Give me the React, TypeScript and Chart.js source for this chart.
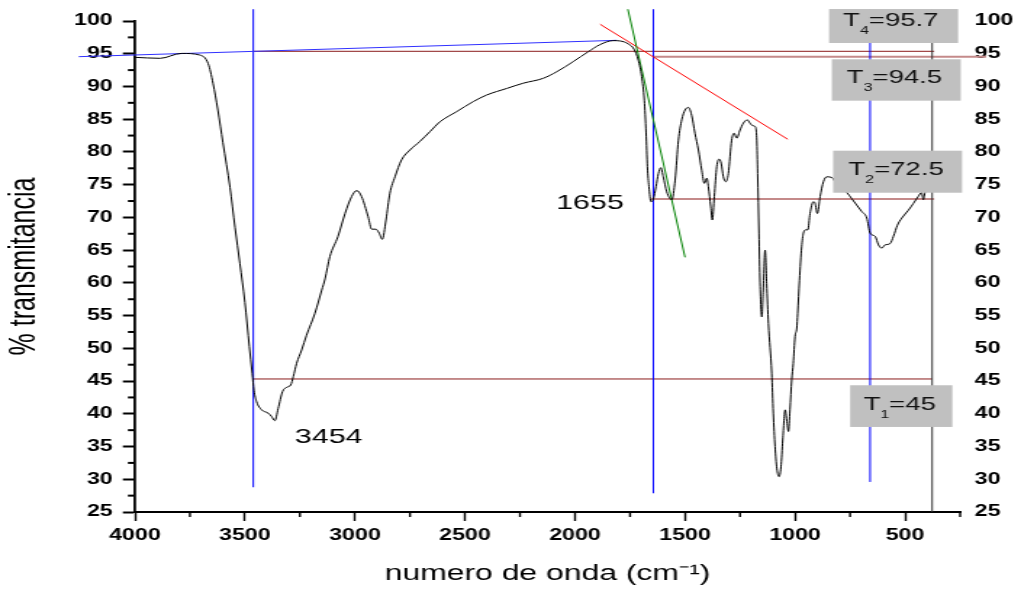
import React, { useEffect, useRef } from 'react';
import { Chart, registerables } from 'chart.js';

Chart.register(...registerables);

// ---------- data ----------
const wavenumbers = [
  4000, 3886, 3788, 3705, 3667, 3645, 3623, 3600, 3568, 3545, 3523, 3500, 3480, 3467, 3459, 3447,
  3424, 3394, 3379, 3364, 3349, 3329, 3310, 3292, 3280, 3265, 3242, 3220, 3182, 3151, 3136, 3114,
  3077, 3045, 3015, 2992, 2970, 2940, 2924, 2905, 2890, 2876, 2859, 2841, 2818, 2788, 2750, 2705,
  2659, 2614, 2538, 2462, 2401, 2310, 2235, 2144, 2083, 2008, 1940, 1886, 1826, 1795, 1758, 1732,
  1712, 1697, 1685, 1677, 1671, 1664, 1655, 1644, 1632, 1621, 1610, 1599, 1583, 1560, 1545, 1530,
  1515, 1500, 1485, 1470, 1455, 1439, 1424, 1412, 1401, 1394, 1383, 1376, 1367, 1356, 1345, 1336,
  1326, 1315, 1303, 1288, 1277, 1265, 1250, 1235, 1217, 1205, 1192, 1182, 1174, 1170, 1164, 1159,
  1151, 1145, 1136, 1129, 1121, 1106, 1099, 1091, 1083, 1073, 1064, 1056, 1045, 1038, 1030, 1023,
  1015, 1008, 1000, 992, 988, 980, 970, 962, 951, 942, 932, 917, 909, 899, 886, 871,
  856, 833, 818, 795, 765, 743, 720, 697, 674, 659, 636, 621, 606, 591, 568, 553,
  535, 515, 485, 462, 440, 425, 417, 409, 394, 379,
];
const transmittance = [
  94.45, 94.3, 95.05, 94.8, 93.5, 90.5, 86.4, 81.4, 74.6, 68.5, 63.0, 57.0, 50.3, 46.2, 43.6, 41.85,
  40.6, 40.1, 39.6, 38.95, 40.8, 43.4, 44.05, 44.4, 45.7, 47.7, 49.75, 52.0, 55.35, 58.9, 60.6, 64.0,
  67.1, 70.6, 73.2, 74.1, 73.2, 70.1, 68.2, 68.2, 67.6, 66.65, 69.6, 73.7, 76.2, 78.8, 80.3, 81.6,
  83.1, 84.6, 86.15, 87.7, 88.7, 89.7, 90.5, 91.25, 92.25, 93.8, 95.3, 96.4, 97.0, 96.95, 96.5, 95.7,
  94.0, 91.5, 87.9, 82.9, 77.75, 74.7, 72.4, 72.8, 74.7, 76.7, 77.6, 76.2, 73.9, 72.7, 75.7, 81.8,
  84.9, 86.4, 86.8, 85.6, 82.85, 80.3, 77.2, 75.2, 76.0, 74.7, 71.6, 69.6, 73.2, 77.75, 78.9, 78.3,
  76.2, 75.45, 76.7, 81.8, 82.85, 82.1, 83.35, 84.4, 84.9, 84.4, 84.0, 83.9, 81.8, 76.7, 67.6, 60.0,
  54.8, 58.5, 65.0, 59.9, 53.8, 46.2, 40.1, 35.0, 31.7, 30.4, 31.9, 36.0, 40.6, 39.05, 37.3, 40.6,
  45.2, 47.7, 51.8, 53.1, 55.35, 60.4, 65.5, 67.6, 68.1, 68.1, 70.6, 72.4, 72.15, 70.6, 73.2, 75.45,
  76.2, 76.1, 75.45, 74.7, 73.8, 72.9, 71.9, 70.9, 69.9, 67.6, 67.1, 65.8, 65.3, 65.8, 66.0, 67.1,
  68.8, 69.9, 71.1, 72.15, 73.2, 73.8, 72.7, 73.9, 74.4, 74.7,
];

const xTickValues = [4000, 3500, 3000, 2500, 2000, 1500, 1000, 500];
const xMinorValues = [3750, 3250, 2750, 2250, 1750, 1250, 750, 250];
const yTickValues = [25, 30, 35, 40, 45, 50, 55, 60, 65, 70, 75, 80, 85, 90, 95, 100];
const yMinorValues = [27.5, 32.5, 37.5, 42.5, 47.5, 52.5, 57.5, 62.5, 67.5, 72.5, 77.5, 82.5, 87.5, 92.5, 97.5];

// guide lines in data units: [wn1, T1, wn2, T2]
const baselineSeg = [4255, 94.55, 1810, 97.05];
const tangentRedSeg = [1886, 99.5, 1033, 81.93];
const tangentGreenSeg = [1760, 101.8, 1500, 63.9];
const peakMarkerWn = [3462, 1644, 659];
const peakMarkerTop = [101.8, 101.8, 101.8];
const peakMarkerBottom = [28.78, 27.86, 29.59];
const endMarkerWn = 377;
const levelDarkValues = [95.37, 45.32];
const levelDarkFrom = [3462, 3462];
const levelDarkTo = [368, 377];
const levelRoseValues = [94.55, 72.8];
const levelRoseFrom = [1644, 1656];
const levelRoseTo = [132, 368];

// peak labels
const peakLabelText = ['3454', '1655'];
const peakLabelWn = [3273, 2086];
const peakLabelT = [35.5, 71.28];

// T boxes
const boxSub = ['4', '3', '2', '1'];
const boxValue = ['=95.7', '=94.5', '=72.5', '=45'];
const boxLeft = [845.5, 833, 827, 750];
const boxRight = [259, 247, 241, 285];
const boxTop = [101.83, 94.15, 80.19, 44.36];
const boxBottom = [96.64, 87.83, 73.77, 37.99];
const boxTextWn = [781.8, 765, 757.7, 689];
const boxTextT = [99.24, 90.48, 76.48, 40.58];

const FONT = '"Liberation Sans", Arial, sans-serif';
const CANVAS_W = 704; // drawn narrower and stretched horizontally like the reference
const CANVAS_H = 592;

const overlayPlugin = {
  id: 'overlay',
  beforeDatasetsDraw(chart: any) {
    const { ctx, scales } = chart;
    const x = scales.x;
    const y = scales.y;
    const px = (v: number) => x.getPixelForValue(v);
    const py = (v: number) => y.getPixelForValue(v);
    const seg = (s: number[], color: string, w: number) => {
      ctx.strokeStyle = color;
      ctx.lineWidth = w;
      ctx.beginPath();
      ctx.moveTo(px(s[0]), py(s[1]));
      ctx.lineTo(px(s[2]), py(s[3]));
      ctx.stroke();
    };
    ctx.save();
    levelDarkValues.forEach((v, i) => seg([levelDarkFrom[i], v, levelDarkTo[i], v], '#8b1c1c', 1));
    levelRoseValues.forEach((v, i) => seg([levelRoseFrom[i], v, levelRoseTo[i], v], '#c48a8a', 2));
    peakMarkerWn.forEach((w, i) => seg([w, peakMarkerTop[i], w, peakMarkerBottom[i]], '#0000ff', 1));
    seg([endMarkerWn, 101.8, endMarkerWn, 25], '#333333', 1);
    seg(baselineSeg, '#3030ff', 1);
    seg(tangentRedSeg, '#ff0000', 1);
    seg(tangentGreenSeg, '#008000', 1);
    ctx.restore();
  },
  afterDatasetsDraw(chart: any) {
    const { ctx, scales } = chart;
    const x = scales.x;
    const y = scales.y;
    const px = (v: number) => x.getPixelForValue(v);
    const py = (v: number) => y.getPixelForValue(v);
    ctx.save();
    ctx.fillStyle = '#000';
    ctx.textBaseline = 'alphabetic';
    ctx.textAlign = 'left';
    ctx.font = `21px ${FONT}`;
    peakLabelText.forEach((t, i) => ctx.fillText(t, px(peakLabelWn[i]), py(peakLabelT[i])));
    boxSub.forEach((sub, i) => {
      const l = px(boxLeft[i]);
      const r = px(boxRight[i]);
      const t = py(boxTop[i]);
      const b = py(boxBottom[i]);
      ctx.fillStyle = '#c0c0c0';
      ctx.fillRect(l, t, r - l, b - t);
      let tx = px(boxTextWn[i]);
      const ty = py(boxTextT[i]);
      ctx.fillStyle = '#111';
      ctx.font = `19px ${FONT}`;
      ctx.fillText('T', tx, ty);
      tx += ctx.measureText('T').width;
      ctx.font = `11px ${FONT}`;
      ctx.fillText(sub, tx, ty + 8);
      tx += ctx.measureText(sub).width;
      ctx.font = `19px ${FONT}`;
      ctx.fillText(boxValue[i], tx, ty);
    });
    ctx.restore();
  },
  afterDraw(chart: any) {
    const { ctx, scales } = chart;
    const x = scales.x;
    const y = scales.y;
    ctx.save();
    ctx.strokeStyle = '#000';
    ctx.lineWidth = 1.4;
    const xb = x.top;
    xMinorValues.forEach((v) => {
      const p = x.getPixelForValue(v);
      ctx.beginPath();
      ctx.moveTo(p, xb);
      ctx.lineTo(p, xb + 5);
      ctx.stroke();
    });
    ctx.lineWidth = 2;
    const yl = y.right;
    yMinorValues.forEach((v) => {
      const p = y.getPixelForValue(v);
      ctx.beginPath();
      ctx.moveTo(yl, p);
      ctx.lineTo(yl - 4.8, p);
      ctx.stroke();
    });
    ctx.restore();
  },
};

export default function App() {
  const canvasRef = useRef<HTMLCanvasElement | null>(null);

  useEffect(() => {
    const canvas = canvasRef.current;
    if (!canvas) return;
    const tickFont = { family: FONT, size: 16, weight: 'bold' as const };
    const plain = (v: any) => String(v);
    const chart = new Chart(canvas, {
      type: 'line',
      data: {
        datasets: [
          {
            data: wavenumbers.map((w, i) => ({ x: w, y: transmittance[i] })),
            borderColor: '#000',
            borderWidth: 1,
            pointRadius: 0,
            fill: false,
            cubicInterpolationMode: 'monotone',
          },
        ],
      },
      options: {
        animation: false,
        responsive: false,
        devicePixelRatio: 1,
        layout: { padding: { top: 21, left: 0, right: 0, bottom: 0 } },
        plugins: { legend: { display: false }, tooltip: { enabled: false } },
        scales: {
          x: {
            type: 'linear',
            reverse: true,
            min: 250,
            max: 4000,
            afterBuildTicks: (s: any) => {
              s.ticks = xTickValues.map((v) => ({ value: v }));
            },
            afterFit: (s: any) => {
              s.height = 80;
            },
            border: { display: true, color: '#000', width: 2 },
            grid: {
              display: true,
              drawOnChartArea: false,
              drawTicks: true,
              tickLength: 9,
              tickWidth: 1.4,
              tickColor: '#000',
            },
            ticks: { color: '#000', font: tickFont, padding: 5, maxRotation: 0, autoSkip: false, callback: plain },
            title: {
              display: true,
              text: 'numero de onda (cm⁻¹)',
              color: '#000',
              font: { family: FONT, size: 22 },
              padding: { top: 0, bottom: 5 },
            },
          },
          y: {
            type: 'linear',
            position: 'left',
            min: 25,
            max: 100,
            afterBuildTicks: (s: any) => {
              s.ticks = yTickValues.map((v) => ({ value: v }));
            },
            afterFit: (s: any) => {
              s.width = 93;
            },
            border: { display: true, color: '#000', width: 1.8 },
            grid: {
              display: true,
              drawOnChartArea: false,
              drawTicks: true,
              tickLength: 8.3,
              tickWidth: 2,
              tickColor: '#000',
            },
            ticks: { color: '#000', font: tickFont, padding: 7, autoSkip: false, callback: plain },
            title: {
              display: true,
              text: '% transmitancia',
              color: '#000',
              font: { family: FONT, size: 25 },
              padding: { top: 2.2, bottom: 0 },
            },
          },
          y2: {
            type: 'linear',
            position: 'right',
            min: 25,
            max: 100,
            afterBuildTicks: (s: any) => {
              s.ticks = yTickValues.map((v) => ({ value: v }));
            },
            afterFit: (s: any) => {
              s.width = CANVAS_W - 662;
            },
            border: { display: false },
            grid: { display: false, drawTicks: false, drawOnChartArea: false },
            ticks: { color: '#000', font: tickFont, padding: 10, autoSkip: false, callback: plain },
          },
        },
      },
      plugins: [overlayPlugin],
    } as any);
    return () => {
      chart.destroy();
    };
  }, []);

  return (
    <div style={{ position: 'absolute', left: 0, top: 0, width: 1021, height: 592, background: '#fff' }}>
      <canvas
        ref={canvasRef}
        width={CANVAS_W}
        height={CANVAS_H}
        style={{ width: '1021px', height: '592px', display: 'block' }}
      />
    </div>
  );
}
